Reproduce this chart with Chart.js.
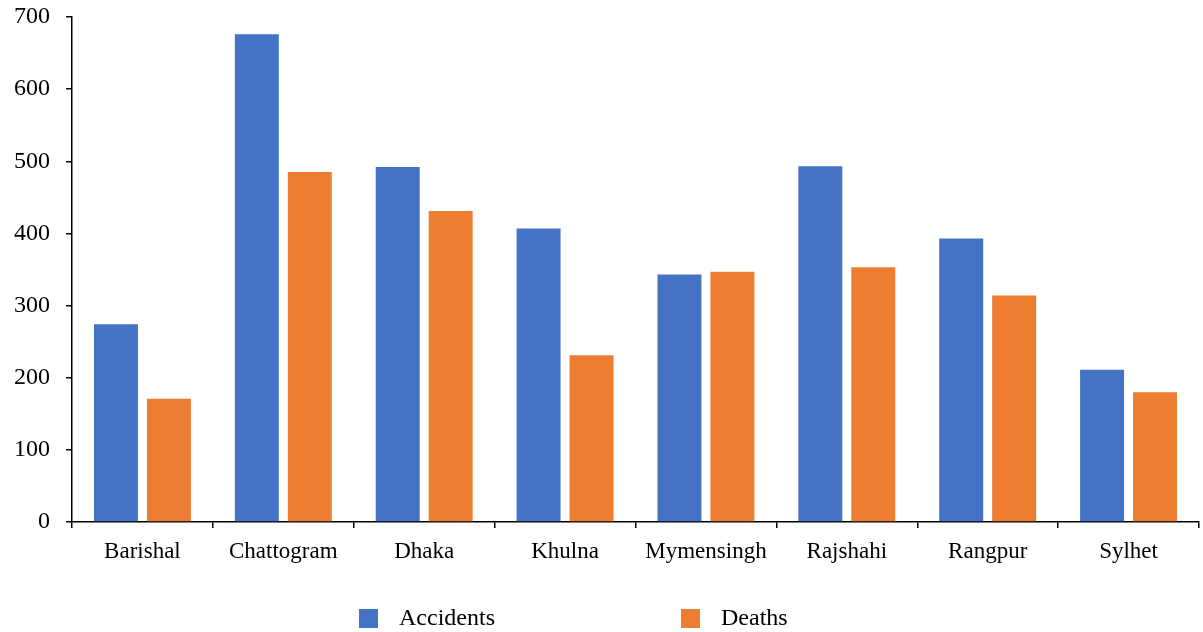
<!DOCTYPE html>
<html>
<head>
<meta charset="utf-8">
<script src="https://cdn.jsdelivr.net/npm/chart.js@4/dist/chart.umd.min.js"></script>
<style>
  html, body { margin: 0; padding: 0; background: #ffffff; }
  #wrap { width: 1203px; height: 632px; position: relative; }
</style>
</head>
<body>
<div id="wrap"><canvas id="c" width="1203" height="632"></canvas></div>
<script>
// Road accidents and deaths by division
const divisions = ['Barishal', 'Chattogram', 'Dhaka', 'Khulna', 'Mymensingh', 'Rajshahi', 'Rangpur', 'Sylhet'];
const accidents = [274, 676, 492, 407, 343, 493, 393, 211];
const deaths    = [171, 485, 431, 231, 347, 353, 314, 180];
const seriesNames = ['Accidents', 'Deaths'];
const yTicks = [0, 100, 200, 300, 400, 500, 600, 700];

const FONT = "'Liberation Serif', 'Times New Roman', serif";
const BLUE = '#4472C4';
const ORANGE = '#ED7D31';

// Legend drawn on the canvas below the plot, items placed at fixed offsets
const bottomLegend = {
  id: 'bottomLegend',
  afterDraw(chart, args, opts) {
    const ctx = chart.ctx;
    ctx.save();
    ctx.font = opts.fontSize + 'px ' + FONT;
    ctx.textBaseline = 'middle';
    ctx.textAlign = 'left';
    chart.data.datasets.forEach((ds, i) => {
      const x = opts.xs[i];
      const y = opts.y;
      ctx.fillStyle = ds.backgroundColor;
      ctx.fillRect(x, y, opts.box, opts.box);
      ctx.fillStyle = '#000000';
      ctx.fillText(ds.label, x + opts.box + opts.gap, y + opts.box / 2);
    });
    ctx.restore();
  }
};

new Chart(document.getElementById('c'), {
  type: 'bar',
  data: {
    labels: divisions,
    datasets: [
      { label: seriesNames[0], data: accidents, backgroundColor: BLUE },
      { label: seriesNames[1], data: deaths, backgroundColor: ORANGE }
    ]
  },
  options: {
    responsive: false,
    animation: false,
    devicePixelRatio: 1,
    layout: { padding: { top: 17, right: 4, bottom: 0, left: 0 } },
    datasets: {
      bar: { categoryPercentage: 0.752, barPercentage: 0.83, borderWidth: 0 }
    },
    plugins: {
      legend: { display: false },
      tooltip: { enabled: false },
      bottomLegend: { xs: [359, 681], y: 609, box: 19, gap: 21, fontSize: 24 }
    },
    scales: {
      x: {
        grid: { drawOnChartArea: false, drawTicks: true, tickLength: 6, color: '#000000', lineWidth: 1.5, offset: true },
        border: { display: true, color: '#000000', width: 1.5 },
        ticks: { color: '#000000', font: { family: FONT, size: 23 }, padding: 10, maxRotation: 0 },
        afterFit(scale) { scale.height = 110; scale.paddingLeft = 0; scale.paddingRight = 0; }
      },
      y: {
        min: 0, max: 700,
        afterBuildTicks(scale) { scale.ticks = yTicks.map(v => ({ value: v })); },
        grid: { drawOnChartArea: false, drawTicks: true, tickLength: 6, color: '#000000', lineWidth: 1.5 },
        border: { display: true, color: '#000000', width: 1.5 },
        ticks: { color: '#000000', font: { family: FONT, size: 24 }, padding: 16 },
        afterFit(scale) { scale.width = 72; scale.paddingTop = 0; scale.paddingBottom = 0; }
      }
    }
  },
  plugins: [bottomLegend]
});
</script>
</body>
</html>
